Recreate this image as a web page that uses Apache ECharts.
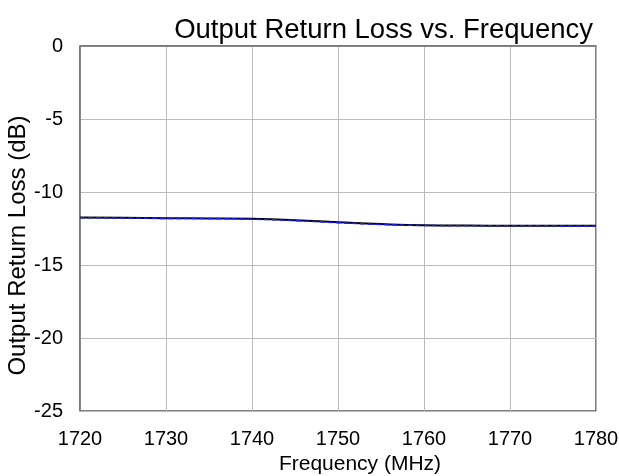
<!DOCTYPE html>
<html>
<head>
<meta charset="utf-8">
<script src="https://cdn.jsdelivr.net/npm/echarts@6/dist/echarts.min.js"></script>
<style>
  html, body { margin: 0; padding: 0; background: #fff; }
  #chart { width: 619px; height: 476px; }
</style>
</head>
<body>
<div id="chart"></div>
<script>
// frequency (MHz) and return loss (dB)
const freq = [1720, 1725, 1730, 1735, 1740, 1745, 1750, 1755, 1760, 1765, 1770, 1775, 1780];
const lossBlack = [-11.75, -11.77, -11.8, -11.81, -11.84, -11.93, -12.07, -12.2, -12.28, -12.3, -12.31, -12.31, -12.32];
const lossBlue = [-11.76, -11.78, -11.81, -11.82, -11.86, -11.96, -12.1, -12.22, -12.29, -12.31, -12.32, -12.32, -12.33];
const xTicks = [1720, 1730, 1740, 1750, 1760, 1770, 1780];
const yTicks = [-25, -20, -15, -10, -5, 0];

const chart = echarts.init(document.getElementById("chart"));
const font = "Arial, 'Liberation Sans', sans-serif";

chart.setOption({
  animation: false,
  title: {
    text: "Output Return Loss vs. Frequency",
    right: 21,
    top: 11,
    textStyle: { fontFamily: font, fontSize: 27.5, fontWeight: "normal", color: "#000" }
  },
  grid: {
    left: 80, right: 23, top: 46, bottom: 65,
    outerBoundsMode: "none", containLabel: false,
    show: true, borderColor: "#000", borderWidth: 1
  },
  xAxis: {
    type: "value",
    min: 1720,
    max: 1780,
    interval: 10,
    name: "Frequency (MHz)",
    nameLocation: "middle",
    nameGap: 39,
    nameTextStyle: { fontFamily: font, fontSize: 21, color: "#000", padding: [0, 0, 0, 44] },
    axisLine: { lineStyle: { color: "#777", width: 1.5 } },
    axisTick: { show: false },
    axisLabel: {
      fontFamily: font, fontSize: 20, color: "#000", margin: 18,
      formatter: v => (xTicks.includes(v) ? String(v) : "")
    },
    splitLine: { lineStyle: { color: "#bbb", width: 1 } }
  },
  yAxis: {
    type: "value",
    min: -25,
    max: 0,
    interval: 5,
    name: "Output Return Loss (dB)",
    nameLocation: "middle",
    nameGap: 50,
    nameMoveOverlap: false,
    nameTextStyle: { fontFamily: font, fontSize: 24, color: "#000", padding: [0, 34, 0, 0] },
    axisLine: { show: true, lineStyle: { color: "#777", width: 1.5 } },
    axisTick: { show: false },
    axisLabel: {
      fontFamily: font, fontSize: 20, color: "#000", margin: 17,
      formatter: v => (yTicks.includes(v) ? String(v) : "")
    },
    splitLine: { lineStyle: { color: "#bbb", width: 1 } }
  },
  series: [
    {
      type: "line",
      data: freq.map((f, i) => [f, lossBlack[i]]),
      smooth: true,
      showSymbol: false,
      lineStyle: { color: "#000", width: 2 }
    },
    {
      type: "line",
      data: freq.map((f, i) => [f, lossBlue[i]]),
      smooth: true,
      showSymbol: false,
      lineStyle: { color: "#1a1aff", width: 1.5, type: [5, 3] }
    }
  ]
});
</script>
</body>
</html>
